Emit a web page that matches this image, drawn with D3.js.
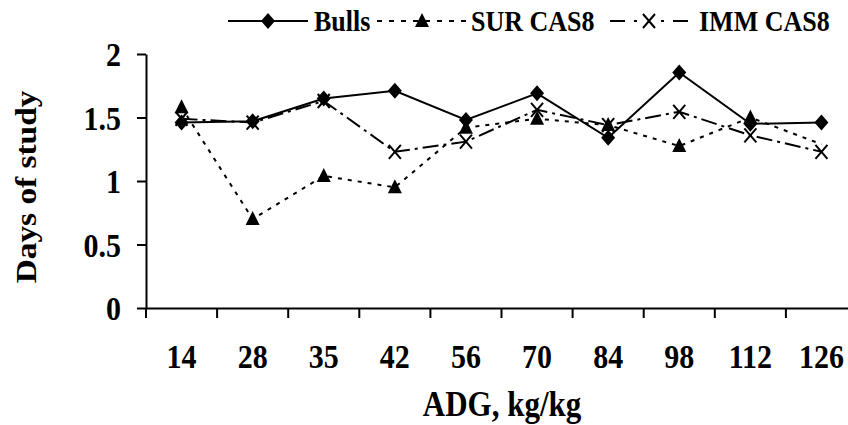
<!DOCTYPE html>
<html><head><meta charset="utf-8">
<script src="https://cdn.jsdelivr.net/npm/d3@7"></script>
<style>body{margin:0;background:#fff}svg{display:block}</style>
</head><body>
<script>
const categories = ["14","28","35","42","56","70","84","98","112","126"];
const bulls = [1.46,1.47,1.65,1.71,1.48,1.69,1.34,1.855,1.45,1.46];
const surCas8 = [1.58,0.70,1.04,0.95,1.42,1.49,1.44,1.275,1.50,1.29];
const surMarkerShown = [true,true,true,true,true,true,true,true,true,false];
const immCas8 = [1.49,1.46,1.63,1.23,1.31,1.56,1.44,1.545,1.36,1.23];
const yTicks = [0,0.5,1,1.5,2];
const seriesNames = ["Bulls","SUR CAS8","IMM CAS8"];
const xTitle = "ADG, kg/kg";
const yTitle = "Days of study";

const W = 848, H = 425;
const FONT = "'Liberation Serif','Times New Roman',Times,serif";
const SY = 1.15;
const svg = d3.select("body").append("svg").attr("width", W).attr("height", H)
  .style("font-family", FONT).style("font-weight", "bold");

const x = d3.scaleBand().domain(categories).range([146, 857]);
const cx = c => x(c) + x.bandwidth() / 2;
const y = d3.scaleLinear().domain([0, 2]).range([308, 54]);

// Y axis
const gy = svg.append("g").attr("transform", "translate(146,0)")
  .call(d3.axisLeft(y).tickValues(yTicks).tickSize(9).tickSizeOuter(0).tickFormat(d => String(d)));
gy.selectAll("path,line").attr("stroke", "#000").attr("stroke-width", 2);
gy.selectAll("text").attr("x", 0).attr("y", 0).attr("dy", null)
  .attr("transform", `translate(-25,11.5) scale(1,${SY})`)
  .attr("font-size", 30).attr("font-family", FONT).attr("font-weight", "bold").attr("fill", "#000");

// X axis
const gx = svg.append("g").attr("transform", "translate(0,308)")
  .call(d3.axisBottom(x).tickSize(0).tickSizeOuter(0));
gx.select("path").attr("stroke", "#000").attr("stroke-width", 2);
gx.selectAll("text").attr("y", 0).attr("dy", null)
  .attr("transform", `translate(0,60) scale(1,${SY})`)
  .attr("font-size", 30).attr("font-family", FONT).attr("font-weight", "bold").attr("fill", "#000");
// boundary tick marks
svg.append("g").selectAll("line").data(categories).join("line")
  .attr("x1", d => x(d)).attr("x2", d => x(d)).attr("y1", 308).attr("y2", 318)
  .attr("stroke", "#000").attr("stroke-width", 2);

// Titles
svg.append("text").attr("text-anchor", "middle")
  .attr("transform", `translate(502,416) scale(1,${SY})`)
  .attr("font-size", 31).text(xTitle);
svg.append("text").attr("text-anchor", "middle")
  .attr("transform", `translate(36,187) rotate(-90) scale(${SY},1)`)
  .attr("font-size", 29).text(yTitle);

// Series
const styles = [
  { data: bulls, dash: null, marker: "diamond" },
  { data: surCas8, dash: "4,6", marker: "triangle" },
  { data: immCas8, dash: "16,5,3,5", marker: "x" }
];
const line = d3.line().x((d, i) => cx(categories[i])).y(d => y(d));
styles.forEach(s => {
  svg.append("path").datum(s.data).attr("d", line)
    .attr("fill", "none").attr("stroke", "#000").attr("stroke-width", 2)
    .attr("stroke-dasharray", s.dash);
});

function drawMarker(g, type, px, py) {
  if (type === "diamond") {
    g.append("path").attr("d", `M${px},${py-8}L${px+7},${py}L${px},${py+8}L${px-7},${py}Z`).attr("fill", "#000");
  } else if (type === "triangle") {
    g.append("path").attr("d", `M${px},${py-8}L${px+7},${py+6}L${px-7},${py+6}Z`).attr("fill", "#000");
  } else {
    g.append("path").attr("d", `M${px-6},${py-7}L${px+6},${py+7}M${px+6},${py-7}L${px-6},${py+7}`)
      .attr("stroke", "#000").attr("stroke-width", 2).attr("fill", "none");
  }
}
const gm = svg.append("g");
styles.forEach((s, si) => {
  s.data.forEach((v, i) => {
    if (si === 1 && !surMarkerShown[i]) return;
    drawMarker(gm, s.marker, cx(categories[i]), y(v));
  });
});

// Legend
const legend = [
  { name: seriesNames[0], x1: 228, x2: 308, mx: 268, tx: 314, dash: null, marker: "diamond" },
  { name: seriesNames[1], x1: 377, x2: 467, mx: 422, tx: 471, dash: "5,7", marker: "triangle" },
  { name: seriesNames[2], x1: 610, x2: 688, mx: 649, tx: 699, dash: "15,9,3,24,3,9,15,0", marker: "x" }
];
const LY = 21;
legend.forEach(l => {
  svg.append("line").attr("x1", l.x1).attr("x2", l.x2).attr("y1", LY).attr("y2", LY)
    .attr("stroke", "#000").attr("stroke-width", 2).attr("stroke-dasharray", l.dash);
  drawMarker(svg, l.marker, l.mx, LY);
  svg.append("text").attr("transform", `translate(${l.tx},${LY + 10}) scale(1,${SY})`)
    .attr("font-size", 26).text(l.name);
});
</script>
</body></html>
